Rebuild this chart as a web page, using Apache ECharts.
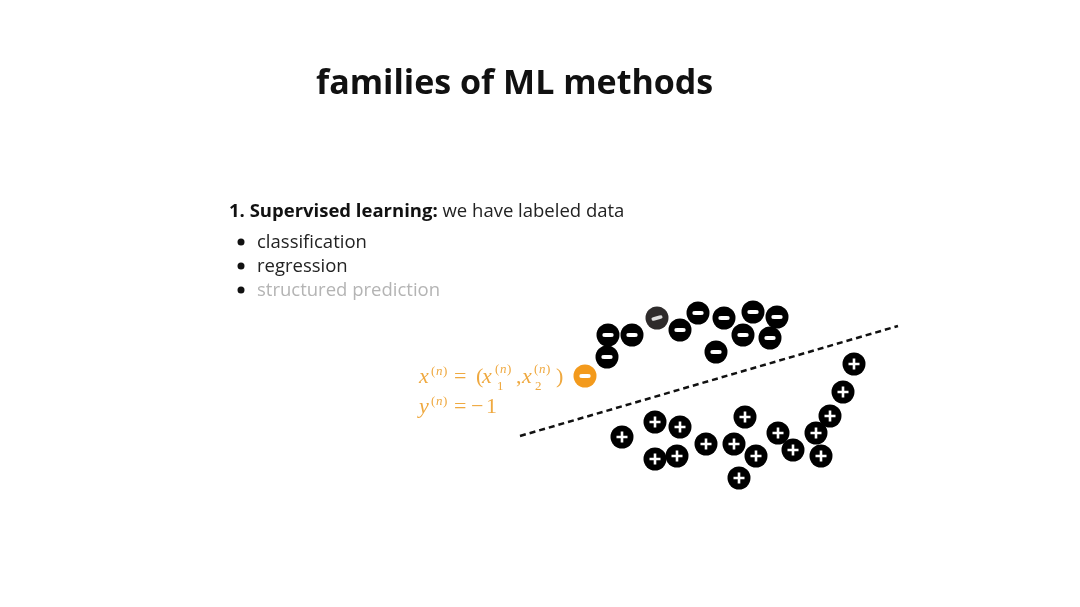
<!DOCTYPE html>
<html><head><meta charset="utf-8">
<script src="https://cdn.jsdelivr.net/npm/echarts@6/dist/echarts.min.js"></script>
<style>html,body{margin:0;padding:0;background:#fff}#c{width:1080px;height:607px}</style>
</head><body><div id="c"></div>
<script>
// feature-space coordinates (x1, x2)
const minusX1 = [10.8, 13.2, 18.0, 19.8, 22.4, 25.3, 27.7, 24.3, 27.0, 21.6, 10.7];
const minusX2 = [16.5, 16.5, 17.0, 18.7, 18.2, 18.8, 18.3, 16.5, 16.2, 14.8, 14.3];
const grayMinus = [[15.7, 18.2]];
const highlighted = [[8.5, 12.4]];
const plusX1 = [35.4, 34.3, 33.0, 31.6, 32.1, 29.3, 27.8, 24.5, 23.4, 25.6, 23.9, 20.6, 15.5, 18.0, 12.2, 15.5, 17.7];
const plusX2 = [13.6, 10.8, 8.4, 6.7, 4.4, 5.0, 6.7, 8.3, 5.6, 4.4, 2.2, 5.6, 7.8, 7.3, 6.3, 4.1, 4.4];
const boundary = [[2.0, 6.4], [39.8, 17.4]];

const minusData = minusX1.map((v, i) => [v, minusX2[i]]);
const plusData = plusX1.map((v, i) => [v, plusX2[i]]);

const chart = echarts.init(document.getElementById('c'));
const serif = '"Liberation Serif", "DejaVu Serif", serif';
const orange = '#efa940';
// place text by left edge and baseline
function tx(x, base, text, size, italic) {
  return { type: 'text', style: { x: x, y: base - 0.3 * size, text: text, align: 'left', verticalAlign: 'middle',
    font: (italic ? 'italic ' : '') + size + 'px ' + serif, fill: orange } };
}
const plusPath = 'path://M0,4.2L11,4.2L11,6.8L0,6.8Z M4.2,0L6.8,0L6.8,11L4.2,11Z';
const sans = '"Open Sans", sans-serif';

chart.setOption({
  backgroundColor: '#ffffff',
  animation: false,
  grid: { left: 0, right: 0, top: 0, bottom: 0 },
  xAxis: { type: 'value', min: -50, max: 58, show: false },
  yAxis: { type: 'value', min: -10.7, max: 50, show: false },
  series: [
    { type: 'line', data: boundary, symbol: 'none', lineStyle: { color: '#111', width: 2.5, type: [6, 4] }, z: 1 },
    { type: 'scatter', data: minusData, symbolSize: 23, itemStyle: { color: '#000', opacity: 1 }, z: 2 },
    { type: 'scatter', data: minusData, symbol: 'roundRect', symbolSize: [11, 4], itemStyle: { color: '#fff', opacity: 1 }, z: 3 },
    { type: 'scatter', data: grayMinus, symbolSize: 23, itemStyle: { color: '#2e2b2b', opacity: 1 }, z: 2 },
    { type: 'scatter', data: grayMinus, symbol: 'roundRect', symbolRotate: 15, symbolSize: [11, 3.5], itemStyle: { color: '#ddd', opacity: 1 }, z: 3 },
    { type: 'scatter', data: highlighted, symbolSize: 23, itemStyle: { color: '#f39a1c', opacity: 1 }, z: 2 },
    { type: 'scatter', data: highlighted, symbol: 'roundRect', symbolSize: [11, 4], itemStyle: { color: '#fff', opacity: 1 }, z: 3 },
    { type: 'scatter', data: plusData, symbolSize: 23, itemStyle: { color: '#000', opacity: 1 }, z: 2 },
    { type: 'scatter', data: plusData, symbol: plusPath, symbolSize: 11, itemStyle: { color: '#fff', opacity: 1 }, z: 3 }
  ],
  graphic: [
    { type: 'text', left: 316, top: 67, style: { text: 'families of ML methods', font: 'bold 34px ' + sans, fill: '#111' } },
    { type: 'text', left: 229, top: 202, style: {
      text: '{b|1. Supervised learning:}{r|\u00a0we have labeled data}',
      rich: { b: { font: 'bold 18.5px ' + sans, fill: '#111' }, r: { font: '18.5px ' + sans, fill: '#222' } } } },
    { type: 'circle', shape: { cx: 241, cy: 242, r: 3.5 }, style: { fill: '#111' } },
    { type: 'circle', shape: { cx: 241, cy: 266, r: 3.5 }, style: { fill: '#111' } },
    { type: 'circle', shape: { cx: 241, cy: 290, r: 3.5 }, style: { fill: '#111' } },
    { type: 'text', left: 257, top: 233, style: { text: 'classification', font: '18.5px ' + sans, fill: '#222' } },
    { type: 'text', left: 257, top: 257, style: { text: 'regression', font: '18.5px ' + sans, fill: '#222' } },
    { type: 'text', left: 257, top: 281, style: { text: 'structured prediction', font: '18.5px ' + sans, fill: '#b4b4b4' } },
    // formula line 1: x^(n) = (x_1^(n), x_2^(n))
    tx(419, 384, 'x', 22, true),
    tx(431, 375, '(', 13), tx(436, 375, 'n', 13, true), tx(443, 375, ')', 13),
    tx(454, 384, '=', 22),
    tx(476, 384, '(', 22),
    tx(482, 384, 'x', 22, true),
    tx(495, 373, '(', 13), tx(500, 373, 'n', 13, true), tx(507, 373, ')', 13),
    tx(497, 390, '1', 13),
    tx(516, 384, ',', 22),
    tx(522, 384, 'x', 22, true),
    tx(534, 373, '(', 13), tx(539, 373, 'n', 13, true), tx(546, 373, ')', 13),
    tx(535, 390, '2', 13),
    tx(556, 384, ')', 22),
    // formula line 2: y^(n) = -1
    tx(419, 414, 'y', 22, true),
    tx(431, 405, '(', 13), tx(436, 405, 'n', 13, true), tx(443, 405, ')', 13),
    tx(454, 414, '=', 22),
    tx(471, 414, '\u2212', 22),
    tx(486, 414, '1', 22)
  ]
});
</script></body></html>
